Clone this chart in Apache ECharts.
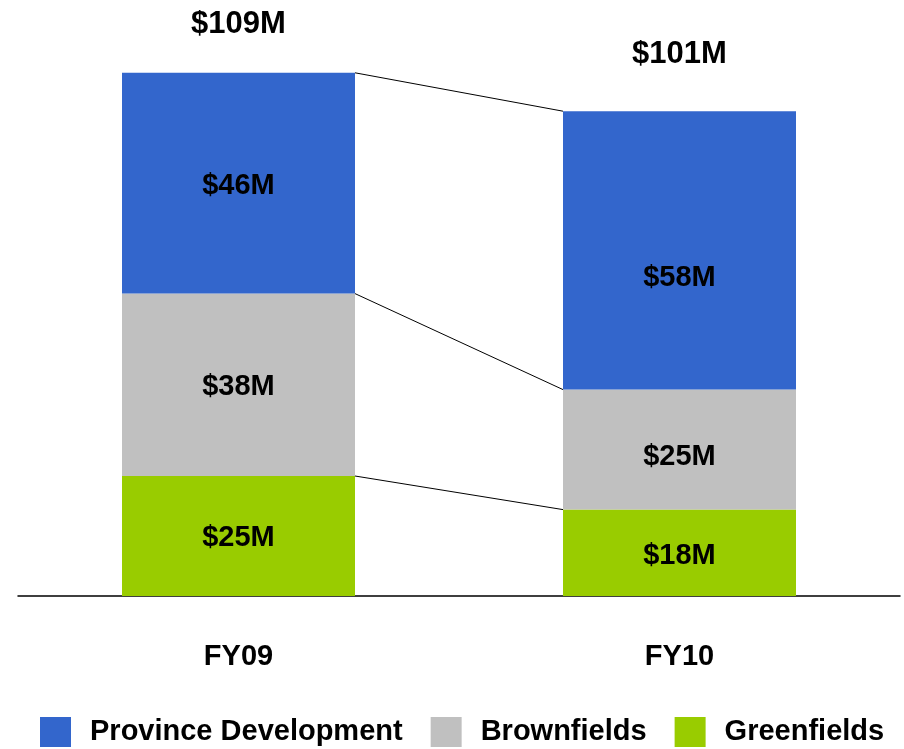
<!DOCTYPE html>
<html>
<head>
<meta charset="utf-8">
<script src="https://cdn.jsdelivr.net/npm/echarts@6/dist/echarts.min.js"></script>
<style>html,body{margin:0;padding:0;background:#fff}#c{width:904px;height:749px}</style>
</head>
<body>
<div id="c"></div>
<script>
const categories = ['FY09', 'FY10'];
const greenfields = [25, 18];
const brownfields = [38, 25];
const province = [46, 58];
const totals = [109, 101];
const seriesNames = ['Province Development', 'Brownfields', 'Greenfields'];

const FONT = '"Liberation Sans", Arial, sans-serif';
const colors = { province: '#3366CC', brown: '#C0C0C0', green: '#99CC00' };

// cumulative boundaries for connector lines
const lvl1 = greenfields.slice();
const lvl2 = greenfields.map((v, i) => v + brownfields[i]);
const lvl3 = lvl2.map((v, i) => v + province[i]);
const connectors = [lvl1, lvl2, lvl3].map(l => [0, l[0], l[1]]);

const BAR_W = 233;
const TOTAL_GAP = [48, 57];
const LABEL_SHIFT = { green: [2, 3], brown: [2, 7], province: [3, 28] };
const segLabel = {
  show: true, position: 'inside', color: '#000', fontFamily: FONT,
  fontWeight: 'bold', fontSize: 29, formatter: p => '$' + p.value + 'M'
};
const withShift = (arr, shifts) => arr.map((v, i) => ({
  value: v, label: Object.assign({}, segLabel, { offset: [0, shifts[i]] })
}));

const chart = echarts.init(document.getElementById('c'), null, { renderer: 'canvas' });
chart.setOption({
  animation: false,
  backgroundColor: '#fff',
  grid: { left: 18, right: 4, top: 20, bottom: 153 },
  legend: {
    data: seriesNames,
    left: 40, top: 717, padding: 0,
    icon: 'rect', itemWidth: 31, itemHeight: 30, itemGap: 28,
    textStyle: { fontFamily: FONT, fontWeight: 'bold', fontSize: 29, color: '#000', padding: [0, 0, 0, 14] }
  },
  xAxis: {
    type: 'category', data: categories,
    axisLine: { lineStyle: { color: '#000', width: 1.5 } },
    axisTick: { show: false },
    axisLabel: { margin: 46, color: '#000', fontFamily: FONT, fontWeight: 'bold', fontSize: 29 }
  },
  yAxis: { type: 'value', min: 0, max: 120, show: false, splitLine: { show: false } },
  series: [
    {
      type: 'custom', name: 'connectors', z: 1, silent: true,
      data: connectors,
      encode: { x: 0, y: [1, 2] },
      renderItem: (params, api) => {
        const a = api.coord([0, api.value(1)]);
        const b = api.coord([1, api.value(2)]);
        return {
          type: 'line',
          shape: { x1: a[0] + BAR_W / 2, y1: a[1], x2: b[0] - BAR_W / 2, y2: b[1] },
          style: { stroke: '#000', lineWidth: 1 }
        };
      }
    },
    {
      name: 'Greenfields', type: 'bar', stack: 't', barWidth: BAR_W,
      itemStyle: { color: colors.green }, data: withShift(greenfields, LABEL_SHIFT.green)
    },
    {
      name: 'Brownfields', type: 'bar', stack: 't', barWidth: BAR_W,
      itemStyle: { color: colors.brown }, data: withShift(brownfields, LABEL_SHIFT.brown)
    },
    {
      name: 'Province Development', type: 'bar', stack: 't', barWidth: BAR_W,
      itemStyle: { color: colors.province }, data: withShift(province, LABEL_SHIFT.province)
    },
    {
      type: 'custom', name: 'totals', z: 5, silent: true,
      data: totals.map((v, i) => [i, v]),
      encode: { x: 0, y: 1 },
      renderItem: (params, api) => {
        const i = params.dataIndex;
        const p = api.coord([api.value(0), api.value(1)]);
        return {
          type: 'text',
          x: p[0], y: p[1] - TOTAL_GAP[i],
          style: {
            text: '$' + api.value(1) + 'M',
            fill: '#000', font: 'bold 31px ' + FONT,
            align: 'center', verticalAlign: 'middle'
          }
        };
      }
    }
  ]
});
</script>
</body>
</html>
